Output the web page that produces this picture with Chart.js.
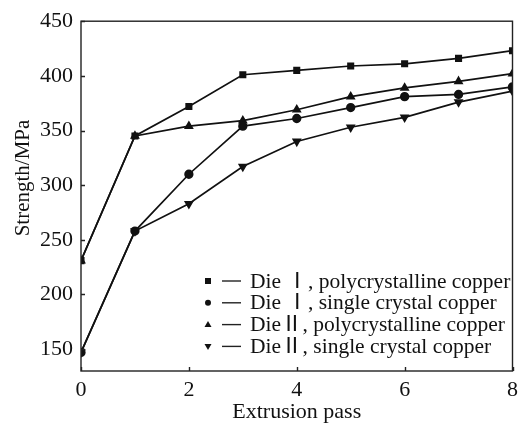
<!DOCTYPE html>
<html>
<head>
<meta charset="utf-8">
<script src="https://cdn.jsdelivr.net/npm/chart.js@4"></script>
<style>
  body { margin: 0; background: #fff; }
  #wrap { width: 524px; height: 423px; }
</style>
</head>
<body>
<div id="wrap"><canvas id="strength-chart" width="524" height="423"></canvas></div>
<script>
// data
const passes = [0, 1, 2, 3, 4, 5, 6, 7, 8];
const die1Poly = [231, 345, 372, 401, 405, 409, 411, 416, 423];
const die1Single = [147, 258, 310, 354, 361, 371, 381, 383, 390];
const die2Poly = [231, 345, 354, 359, 369, 381, 389, 395, 402];
const die2Single = [147, 258, 283, 317, 340, 353, 362, 376, 386];
const seriesLabels = [
  "Die \u2160, polycrystalline copper",
  "Die \u2160, single crystal copper",
  "Die\u2161, polycrystalline copper",
  "Die\u2161, single crystal copper"
];
const yTicks = [150, 200, 250, 300, 350, 400, 450];
const xTicks = [0, 2, 4, 6, 8];
const yTitle = 'Strength/MPa';

const serif = "'Liberation Serif', 'Times New Roman', serif";
const legendFont = "'Liberation Serif', 'Noto Sans CJK SC', serif";
const markers = ['rect', 'circle', 'triangle', 'triangle'];
const rotations = [0, 0, 0, 180];
const allSeries = [die1Poly, die1Single, die2Poly, die2Single];

const datasets = allSeries.map((vals, i) => ({
  label: seriesLabels[i],
  data: passes.map((p, j) => ({ x: p, y: vals[j] })),
  borderColor: '#111',
  backgroundColor: '#111',
  borderWidth: 1.7,
  pointStyle: markers[i],
  rotation: rotations[i],
  pointRadius: markers[i] === 'triangle' ? 4 : 3.8,
  tension: 0
}));

// frame, inward ticks, y title and legend inside the plot
const framePlugin = {
  id: 'frame',
  afterDraw(chart) {
    const ctx = chart.ctx;
    const a = chart.chartArea;
    const xs = chart.scales.x, ys = chart.scales.y;
    ctx.save();
    ctx.strokeStyle = '#222';
    ctx.lineWidth = 1.4;
    ctx.strokeRect(a.left, a.top, a.right - a.left, a.bottom - a.top);
    ctx.beginPath();
    yTicks.forEach(v => {
      const y = Math.round(ys.getPixelForValue(v)) + 0.5;
      ctx.moveTo(a.left, y); ctx.lineTo(a.left + 4, y);
    });
    xTicks.forEach(v => {
      const x = Math.round(xs.getPixelForValue(v)) + 0.5;
      ctx.moveTo(x, a.bottom); ctx.lineTo(x, a.bottom - 4);
    });
    ctx.stroke();

    // y axis title, sits a bit above the middle in the original
    ctx.save();
    ctx.translate(23, 178);
    ctx.rotate(-Math.PI / 2);
    ctx.font = '21px ' + serif;
    ctx.fillStyle = '#111';
    ctx.textAlign = 'center';
    ctx.textBaseline = 'middle';
    ctx.fillText(yTitle, 0, 0);
    ctx.restore();

    // legend
    ctx.font = '21.5px ' + legendFont;
    ctx.textBaseline = 'middle';
    ctx.fillStyle = '#111';
    chart.data.datasets.forEach((ds, i) => {
      const y = 281 + i * 21.8;
      const mx = 208;
      ctx.beginPath();
      if (markers[i] === 'rect') {
        ctx.rect(mx - 3, y - 3, 6, 6);
      } else if (markers[i] === 'circle') {
        ctx.arc(mx, y, 3, 0, Math.PI * 2);
      } else if (rotations[i] === 0) {
        ctx.moveTo(mx, y - 3.5); ctx.lineTo(mx + 3.5, y + 2.5); ctx.lineTo(mx - 3.5, y + 2.5);
      } else {
        ctx.moveTo(mx, y + 3.5); ctx.lineTo(mx + 3.5, y - 2.5); ctx.lineTo(mx - 3.5, y - 2.5);
      }
      ctx.fill();
      ctx.beginPath();
      ctx.lineWidth = 1.4;
      ctx.moveTo(222, y); ctx.lineTo(241, y);
      ctx.stroke();
      ctx.fillText(ds.label, 250, y + 1);
    });
    ctx.restore();
  }
};

const canvas = document.getElementById('strength-chart');

new Chart(canvas, {
  type: 'line',
  data: { datasets: datasets },
  options: {
    responsive: false,
    animation: false,
    layout: { padding: { top: 20, right: 5, left: 0, bottom: 0 } },
    plugins: {
      legend: { display: false },
      tooltip: { enabled: false }
    },
    scales: {
      x: {
        type: 'linear',
        min: 0,
        max: 8,
        afterBuildTicks: s => { s.ticks = xTicks.map(v => ({ value: v })); },
        afterFit: s => { s.height = 52; },
        grid: { display: false, drawTicks: false },
        border: { display: false },
        ticks: { color: '#111', font: { family: serif, size: 22 }, padding: 6, maxRotation: 0 },
        title: { display: true, text: 'Extrusion pass', color: '#111', font: { family: serif, size: 22, lineHeight: 1 }, padding: { top: 0, bottom: 0 } }
      },
      y: {
        min: 130,
        max: 450,
        afterBuildTicks: s => { s.ticks = yTicks.map(v => ({ value: v })); },
        afterFit: s => { s.width = 81; },
        grid: { display: false, drawTicks: false },
        border: { display: false },
        ticks: { color: '#111', font: { family: serif, size: 22 }, padding: 8 },
        title: { display: false }
      }
    }
  },
  plugins: [framePlugin]
});
</script>
</body>
</html>
